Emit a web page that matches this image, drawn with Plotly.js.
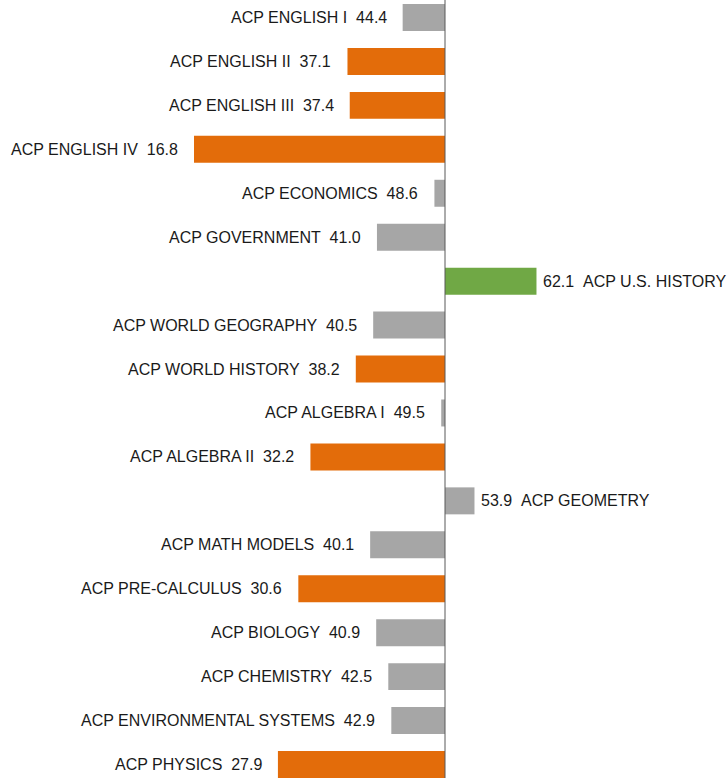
<!DOCTYPE html>
<html>
<head>
<meta charset="utf-8">
<script src="https://cdn.plot.ly/plotly-3.0.1.min.js"></script>
<style>html,body{margin:0;padding:0;background:#fff;}#chart{width:727px;height:778px;}</style>
</head>
<body>
<div id="chart"></div>
<script>
// ---- data ----
const courses = [
  "ACP ENGLISH I", "ACP ENGLISH II", "ACP ENGLISH III", "ACP ENGLISH IV",
  "ACP ECONOMICS", "ACP GOVERNMENT", "ACP U.S. HISTORY", "ACP WORLD GEOGRAPHY",
  "ACP WORLD HISTORY", "ACP ALGEBRA I", "ACP ALGEBRA II", "ACP GEOMETRY",
  "ACP MATH MODELS", "ACP PRE-CALCULUS", "ACP BIOLOGY", "ACP CHEMISTRY",
  "ACP ENVIRONMENTAL SYSTEMS", "ACP PHYSICS"
];
const scores = [44.4, 37.1, 37.4, 16.8, 48.6, 41.0, 62.1, 40.5, 38.2, 49.5, 32.2, 53.9, 40.1, 30.6, 40.9, 42.5, 42.9, 27.9];
const groups = ["mid", "low", "low", "low", "mid", "mid", "high", "mid", "low", "mid", "low", "mid", "mid", "low", "mid", "mid", "mid", "low"];
const baseline = 50;

// ---- styles ----
const groupColors = {low: "#E36C0A", mid: "#A6A6A6", high: "#70A845"};
const SEP = "\u00A0\u00A0";

const trace = {
  type: "bar",
  orientation: "h",
  y: courses,
  x: scores.map(s => s - baseline),
  base: baseline,
  marker: {color: groups.map(g => groupColors[g])},
  width: 0.614,
  hoverinfo: "skip"
};

const annotations = courses.map((c, i) => {
  const s = scores[i];
  const v = s.toFixed(1);
  if (s < baseline) {
    return {x: s, y: c, xref: "x", yref: "y", text: c + SEP + v, showarrow: false,
            xanchor: "right", yanchor: "middle", xshift: -14, yshift: 0};
  }
  return {x: s, y: c, xref: "x", yref: "y", text: v + SEP + c, showarrow: false,
          xanchor: "left", yanchor: "middle", xshift: 5, yshift: 0};
});

const layout = {
  width: 727, height: 778,
  margin: {l: 0, r: 0, t: 0, b: 0, pad: 0},
  paper_bgcolor: "#fff", plot_bgcolor: "#fff",
  showlegend: false,
  font: {family: "Liberation Sans, Arial, sans-serif", size: 16, color: "#1a1a1a"},
  xaxis: {range: [-8.86, 87.3], visible: false, fixedrange: true},
  yaxis: {type: "category", range: [17.307, -0.398], visible: false, fixedrange: true},
  shapes: [{type: "line", xref: "x", yref: "paper", x0: baseline, x1: baseline, y0: 0, y1: 1,
            line: {color: "#595959", width: 1}, layer: "above"}],
  annotations: annotations
};

Plotly.newPlot("chart", [trace], layout, {displayModeBar: false, staticPlot: true});
</script>
</body>
</html>
